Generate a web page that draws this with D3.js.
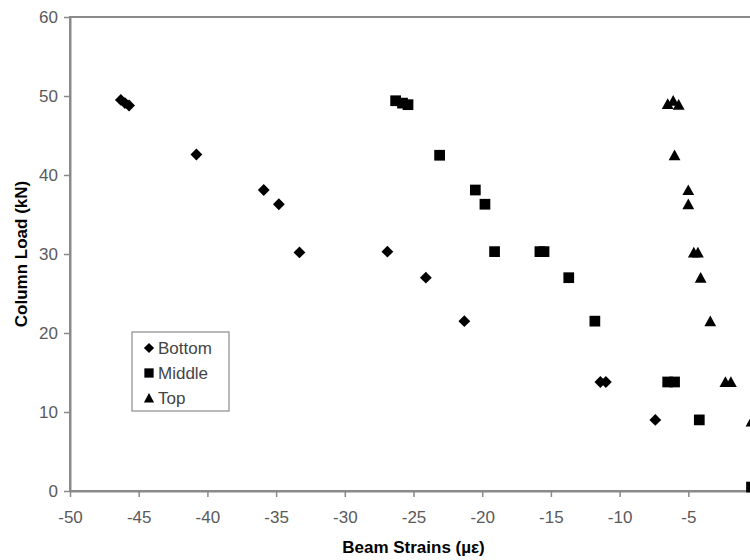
<!DOCTYPE html>
<html>
<head>
<meta charset="utf-8">
<script src="https://cdn.jsdelivr.net/npm/d3@7"></script>
<style>
  body { margin: 0; background: #fff; }
  svg { display: block; font-family: "Liberation Sans", Arial, sans-serif; }
</style>
</head>
<body>
<div id="chart"></div>
<script>
// beam strain readings (x, microstrain) vs column load (y, kN)
const bottomX = [-46.3, -46.0, -45.7, -40.8, -35.9, -34.8, -33.3, -26.9, -24.1, -21.3, -11.4, -11.0, -7.4];
const bottomY = [49.5, 49.1, 48.8, 42.6, 38.1, 36.3, 30.2, 30.3, 27.0, 21.5, 13.8, 13.8, 9.0];
const middleX = [-26.3, -25.8, -25.4, -23.1, -20.5, -19.8, -19.1, -15.8, -15.5, -13.7, -11.8, -6.5, -6.0, -4.2, -0.4];
const middleY = [49.4, 49.1, 48.9, 42.5, 38.1, 36.3, 30.3, 30.3, 30.3, 27.0, 21.5, 13.8, 13.8, 9.0, 0.5];
const topX = [-6.5, -6.1, -5.7, -6.0, -5.0, -5.0, -4.6, -4.3, -4.1, -3.4, -2.3, -1.9, -0.4];
const topY = [49.0, 49.4, 48.9, 42.5, 38.1, 36.3, 30.2, 30.2, 27.0, 21.5, 13.8, 13.8, 8.8];

const seriesNames = ["Bottom", "Middle", "Top"];
const xTicks = [-50, -45, -40, -35, -30, -25, -20, -15, -10, -5];
const yTicks = [0, 10, 20, 30, 40, 50, 60];

const width = 750, height = 560;
const margin = { left: 70, top: 17 };
const plotW = 687, plotH = 474;

// excel style markers
const diamond = {
  draw(ctx, size) {
    const r = Math.sqrt(size / 2);
    ctx.moveTo(0, -r); ctx.lineTo(r, 0); ctx.lineTo(0, r); ctx.lineTo(-r, 0); ctx.closePath();
  }
};
const square = {
  draw(ctx, size) {
    const s = Math.sqrt(size) / 2;
    ctx.rect(-s, -s, s * 2, s * 2);
  }
};
const triangle = {
  draw(ctx, size) {
    const s = Math.sqrt(size) / 2;
    ctx.moveTo(0, -s * 1.05); ctx.lineTo(s * 1.1, s * 0.95); ctx.lineTo(-s * 1.1, s * 0.95); ctx.closePath();
  }
};
const shapes = [diamond, square, triangle];
const sizes = [70, 115, 115];

const series = [
  bottomX.map((x, i) => ({ x: x, y: bottomY[i] })),
  middleX.map((x, i) => ({ x: x, y: middleY[i] })),
  topX.map((x, i) => ({ x: x, y: topY[i] }))
];

const svg = d3.select("#chart").append("svg")
  .attr("width", width)
  .attr("height", height);

const x = d3.scaleLinear().domain([-50, 0]).range([margin.left, margin.left + plotW]);
const y = d3.scaleLinear().domain([0, 60]).range([margin.top + plotH, margin.top]);

// plot frame
svg.append("rect")
  .attr("x", margin.left).attr("y", margin.top)
  .attr("width", plotW).attr("height", plotH)
  .attr("fill", "none")
  .attr("stroke", "#8a8a8a")
  .attr("stroke-width", 2);

// plain hyphen for negatives, like the original
const fmt = d => String(d);

const xAxis = svg.append("g")
  .attr("transform", "translate(0," + (margin.top + plotH) + ")")
  .call(d3.axisBottom(x).tickValues(xTicks).tickFormat(fmt).tickSize(6).tickSizeOuter(0).tickPadding(14));

const yAxis = svg.append("g")
  .attr("transform", "translate(" + margin.left + ",0)")
  .call(d3.axisLeft(y).tickValues(yTicks).tickFormat(fmt).tickSize(6).tickSizeOuter(0).tickPadding(6));

[xAxis, yAxis].forEach(g => {
  g.select(".domain").attr("stroke", "#8a8a8a").attr("stroke-width", 2);
  g.selectAll(".tick line").attr("stroke", "#8a8a8a").attr("stroke-width", 1.5);
  g.selectAll(".tick text")
    .attr("fill", "#5a5a5a")
    .style("font-size", "17px")
    .style("font-family", "'Liberation Sans', Arial, sans-serif");
});

// points
series.forEach((pts, i) => {
  svg.append("g").selectAll("path")
    .data(pts)
    .enter()
    .append("path")
    .attr("d", d3.symbol().type(shapes[i]).size(sizes[i]))
    .attr("transform", d => "translate(" + x(d.x) + "," + y(d.y) + ")")
    .attr("fill", "#000");
});

// axis titles
svg.append("text")
  .attr("x", x(-25))
  .attr("y", 553)
  .attr("text-anchor", "middle")
  .style("font-size", "17px")
  .style("font-weight", "bold")
  .text("Beam Strains (\u00b5\u03b5)");

svg.append("text")
  .attr("transform", "translate(27," + y(30) + ") rotate(-90)")
  .attr("text-anchor", "middle")
  .style("font-size", "17px")
  .style("font-weight", "bold")
  .text("Column Load (kN)");

// legend
const legend = svg.append("g");
legend.append("rect")
  .attr("x", 132).attr("y", 332)
  .attr("width", 97).attr("height", 79)
  .attr("fill", "#fff")
  .attr("stroke", "#8a8a8a")
  .attr("stroke-width", 1.2);

seriesNames.forEach((name, i) => {
  const cy = 348 + i * 25;
  legend.append("path")
    .attr("d", d3.symbol().type(shapes[i]).size(sizes[i] * 0.75))
    .attr("transform", "translate(149," + cy + ")")
    .attr("fill", "#000");
  legend.append("text")
    .attr("x", 158)
    .attr("y", cy + 6)
    .attr("fill", "#444")
    .style("font-size", "17px")
    .text(name);
});
</script>
</body>
</html>
